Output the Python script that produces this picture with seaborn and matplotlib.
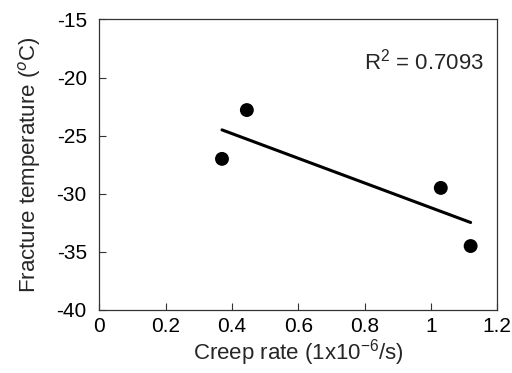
"""Fracture temperature vs creep rate with linear fit."""

import matplotlib

matplotlib.use("Agg")
import matplotlib.pyplot as plt
import pandas as pd
import seaborn as sns

# Values.
creep_rate = [0.37, 0.445, 1.03, 1.12]
fracture_temp = [-27.0, -22.8, -29.5, -34.5]
r_squared_label = "R$^2$ = 0.7093"

x_ticks = [0, 0.2, 0.4, 0.6, 0.8, 1, 1.2]
x_tick_labels = ["0", "0.2", "0.4", "0.6", "0.8", "1", "1.2"]
y_ticks = [-40, -35, -30, -25, -20, -15]

df = pd.DataFrame({"creep_rate": creep_rate, "fracture_temp": fracture_temp})

sns.set_theme(style="ticks")
plt.rcParams["font.family"] = ["Liberation Sans", "DejaVu Sans"]
plt.rcParams["mathtext.fontset"] = "custom"
plt.rcParams["mathtext.rm"] = "Liberation Sans"
plt.rcParams["axes.unicode_minus"] = False

fig = plt.figure(figsize=(5.12, 3.73), dpi=100)
ax = fig.add_axes([0.194, 0.169, 0.777, 0.779])

sns.regplot(
    data=df,
    x="creep_rate",
    y="fracture_temp",
    ci=None,
    ax=ax,
    scatter_kws={"s": 100, "color": "black", "edgecolor": "none", "alpha": 1},
    line_kws={"color": "black", "lw": 2.2},
)

ax.set_xlim(0, 1.2)
ax.set_ylim(-40, -15)
ax.set_xticks(x_ticks)
ax.set_xticklabels(x_tick_labels)
ax.set_yticks(y_ticks)
ax.tick_params(direction="in", length=5, width=0.8, labelsize=15, pad=9,
               color="#333333", labelcolor="black")
ax.tick_params(axis="x", pad=5)

for spine in ax.spines.values():
    spine.set_linewidth(0.9)
    spine.set_color("#333333")

ax.set_xlabel("Creep rate (1x10$^{-6}$/s)", fontsize=16, labelpad=1)
ax.set_ylabel("Fracture temperature ($^o$C)", fontsize=16, labelpad=10)

ax.text(0.817, 0.855, r_squared_label, transform=ax.transAxes, ha="center",
        va="center", fontsize=16)

fig.savefig("out.png", dpi=100)
